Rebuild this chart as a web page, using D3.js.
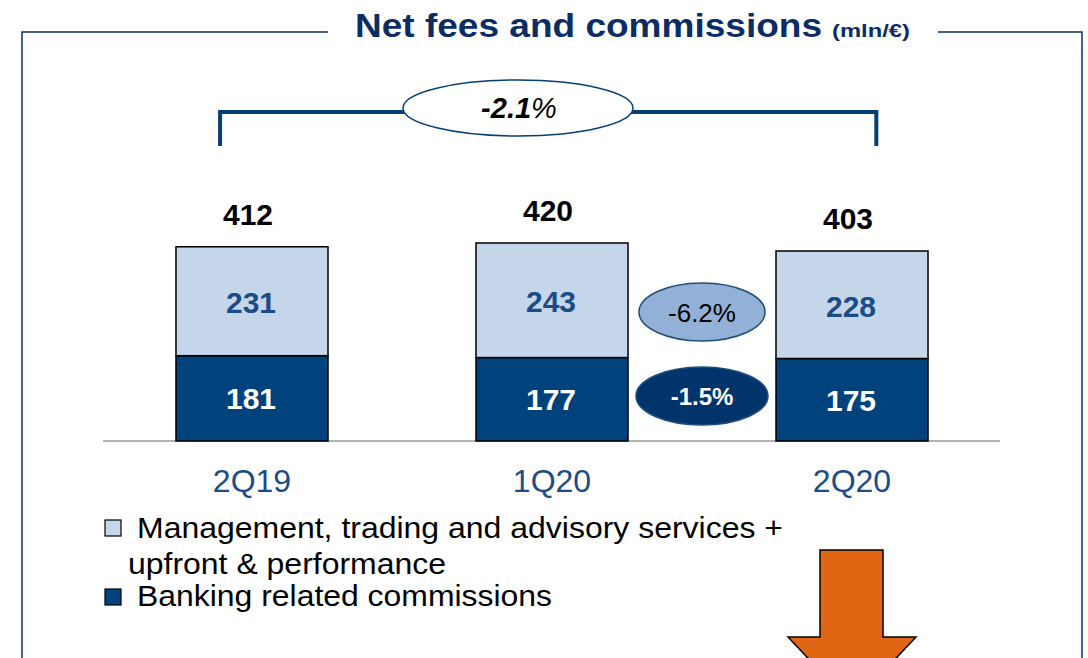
<!DOCTYPE html>
<html>
<head>
<meta charset="utf-8">
<script src="https://cdn.jsdelivr.net/npm/d3@7"></script>
<style>
  body { margin: 0; background: #fff; }
  svg { display: block; font-family: "Liberation Sans", Arial, sans-serif; }
</style>
</head>
<body>
<svg id="chart" width="1088" height="658"></svg>
<script>
// chart data
var categories = ["2Q19", "1Q20", "2Q20"];
var mgmtValues = [231, 243, 228];      // Management, trading and advisory + upfront & performance
var bankingValues = [181, 177, 175];   // Banking related commissions
var totals = [412, 420, 403];
var seriesNames = [
  ["Management, trading and advisory services +", "upfront & performance"],
  ["Banking related commissions"]
];
var changeLabels = { total: "-2.1", mgmt: "-6.2%", banking: "-1.5%" };

var colors = {
  light: "#c5d5ea",
  dark: "#00427b",
  navy: "#0b2d64",
  lightText: "#1b4c86",
  bracket: "#063f74"
};

var svg = d3.select("#chart");

// scales
var x = d3.scaleBand()
  .domain(categories)
  .range([100, 1004])
  .paddingInner(0.4933)
  .paddingOuter(0.2533);

var y = d3.scaleLinear()
  .domain([0, 420])
  .range([441, 243]);

var stacks = categories.map(function(c, i) {
  return { cat: c, bank: bankingValues[i], mgmt: mgmtValues[i], total: totals[i] };
});

// frame around the chart
svg.append("path")
  .attr("d", "M328,32 H22 V660 M938,32 H1082 V660")
  .attr("fill", "none")
  .attr("stroke", colors.navy)
  .attr("stroke-width", 1.5);

// title
svg.append("text")
  .attr("x", 355)
  .attr("y", 37)
  .attr("fill", colors.navy)
  .attr("font-weight", "bold")
  .attr("font-size", 34)
  .attr("textLength", 467)
  .attr("lengthAdjust", "spacingAndGlyphs")
  .text("Net fees and commissions");
svg.append("text")
  .attr("x", 832)
  .attr("y", 37)
  .attr("fill", colors.navy)
  .attr("font-weight", "bold")
  .attr("font-size", 18)
  .attr("textLength", 78)
  .attr("lengthAdjust", "spacingAndGlyphs")
  .text("(mln/€)");

// bracket for total change
var bx0 = x("2Q19") + x.bandwidth() * 0.29,
    bx1 = x("2Q20") + x.bandwidth() * 0.66;
svg.append("path")
  .attr("d", "M" + bx0 + ",146 V112 H" + bx1 + " V146")
  .attr("fill", "none")
  .attr("stroke", colors.bracket)
  .attr("stroke-width", 4);

svg.append("ellipse")
  .attr("cx", 518).attr("cy", 108)
  .attr("rx", 115).attr("ry", 28)
  .attr("fill", "#fff")
  .attr("stroke", colors.bracket)
  .attr("stroke-width", 1.5);
var tt = svg.append("text")
  .attr("x", 519).attr("y", 118)
  .attr("text-anchor", "middle")
  .attr("font-size", 29)
  .attr("font-style", "italic")
  .attr("fill", "#000");
tt.append("tspan").attr("font-weight", "bold").text(changeLabels.total);
tt.append("tspan").text("%");

// axis baseline
svg.append("line")
  .attr("x1", 103).attr("x2", 1000)
  .attr("y1", y(0)).attr("y2", y(0))
  .attr("stroke", "#9a9a9a")
  .attr("stroke-width", 1.5);

// bars
var g = svg.selectAll(".stack")
  .data(stacks)
  .enter().append("g")
  .attr("class", "stack");

g.append("rect")
  .attr("x", function(d) { return x(d.cat); })
  .attr("y", function(d) { return y(d.bank); })
  .attr("width", x.bandwidth())
  .attr("height", function(d) { return y(0) - y(d.bank); })
  .attr("fill", colors.dark)
  .attr("stroke", "#000")
  .attr("stroke-width", 1.5);

g.append("rect")
  .attr("x", function(d) { return x(d.cat); })
  .attr("y", function(d) { return y(d.total); })
  .attr("width", x.bandwidth())
  .attr("height", function(d) { return y(d.bank) - y(d.total); })
  .attr("fill", colors.light)
  .attr("stroke", "#000")
  .attr("stroke-width", 1.5);

// segment labels
g.append("text")
  .attr("x", function(d) { return x(d.cat) + x.bandwidth() / 2 - 1; })
  .attr("y", function(d) { return (y(0) + y(d.bank)) / 2 + 11; })
  .attr("text-anchor", "middle")
  .attr("font-size", 30)
  .attr("font-weight", "bold")
  .attr("fill", "#fff")
  .text(function(d) { return d.bank; });

g.append("text")
  .attr("x", function(d) { return x(d.cat) + x.bandwidth() / 2 - 1; })
  .attr("y", function(d) { return (y(d.bank) + y(d.total)) / 2 + 12; })
  .attr("text-anchor", "middle")
  .attr("font-size", 30)
  .attr("font-weight", "bold")
  .attr("fill", colors.lightText)
  .text(function(d) { return d.mgmt; });

// totals
g.append("text")
  .attr("x", function(d) { return x(d.cat) + x.bandwidth() / 2 - 4; })
  .attr("y", function(d) { return y(d.total) - 22; })
  .attr("text-anchor", "middle")
  .attr("font-size", 30)
  .attr("font-weight", "bold")
  .attr("fill", "#000")
  .text(function(d) { return d.total; });

// category labels
g.append("text")
  .attr("x", function(d) { return x(d.cat) + x.bandwidth() / 2; })
  .attr("y", 492)
  .attr("text-anchor", "middle")
  .attr("font-size", 32)
  .attr("fill", colors.lightText)
  .text(function(d) { return d.cat; });

// change bubbles between 1Q20 and 2Q20
var midX = (x("1Q20") + x.bandwidth() + x("2Q20")) / 2;
svg.append("ellipse")
  .attr("cx", midX).attr("cy", 312)
  .attr("rx", 63).attr("ry", 29)
  .attr("fill", "#93b1d6")
  .attr("stroke", "#1f4e79")
  .attr("stroke-width", 1.5);
svg.append("text")
  .attr("x", midX).attr("y", 322)
  .attr("text-anchor", "middle")
  .attr("font-size", 26)
  .attr("fill", "#000")
  .text(changeLabels.mgmt);

svg.append("ellipse")
  .attr("cx", midX).attr("cy", 396)
  .attr("rx", 66).attr("ry", 29)
  .attr("fill", "#00346b")
  .attr("stroke", "#1f4e79")
  .attr("stroke-width", 1.5);
svg.append("text")
  .attr("x", midX).attr("y", 405)
  .attr("text-anchor", "middle")
  .attr("font-size", 24)
  .attr("font-weight", "bold")
  .attr("fill", "#fff")
  .text(changeLabels.banking);

// legend
var legend = svg.append("g").attr("font-size", 29).attr("fill", "#000");
legend.append("rect")
  .attr("x", 105).attr("y", 520).attr("width", 16).attr("height", 16)
  .attr("fill", colors.light).attr("stroke", "#000").attr("stroke-width", 1.2);
legend.append("text").attr("x", 137).attr("y", 538)
  .attr("textLength", 646).attr("lengthAdjust", "spacingAndGlyphs")
  .text(seriesNames[0][0]);
legend.append("text").attr("x", 128).attr("y", 574)
  .attr("textLength", 318).attr("lengthAdjust", "spacingAndGlyphs")
  .text(seriesNames[0][1]);
legend.append("rect")
  .attr("x", 105).attr("y", 589).attr("width", 16).attr("height", 16)
  .attr("fill", colors.dark).attr("stroke", "#000").attr("stroke-width", 1.2);
legend.append("text").attr("x", 137).attr("y", 606)
  .attr("textLength", 415).attr("lengthAdjust", "spacingAndGlyphs")
  .text(seriesNames[1][0]);

// orange down arrow
svg.append("path")
  .attr("d", "M820,550 H883 V637 H916 L852,705 L788,637 H820 Z")
  .attr("fill", "#e06614")
  .attr("stroke", "#000")
  .attr("stroke-width", 1.5);
</script>
</body>
</html>
